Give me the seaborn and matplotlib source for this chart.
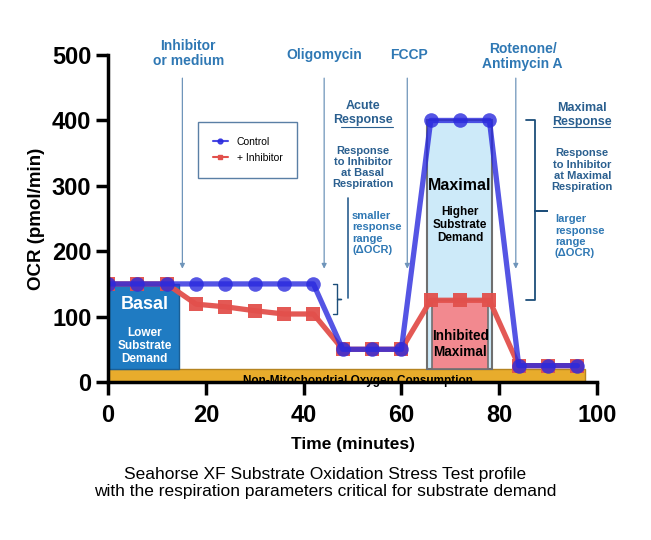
import numpy as np
import pandas as pd
import matplotlib.pyplot as plt
import seaborn as sns
from matplotlib.patches import Rectangle
from matplotlib.lines import Line2D

# data
time = [0, 6, 12, 18, 24, 30, 36, 42, 48, 54, 60, 66, 72, 78, 84, 90, 96]
control = [150, 150, 150, 150, 150, 150, 150, 150, 50, 50, 50, 400, 400, 400, 25, 25, 25]
inhibitor = [150, 150, 150, 119, 115, 109, 104, 104, 50, 50, 50, 125, 125, 125, 25, 25, 25]
injections = ["Inhibitor\nor medium", "Oligomycin", "FCCP", "Rotenone/\nAntimycin A"]
injection_times = [15.2, 44.2, 61.2, 83.4]
x_ticks = [0, 20, 40, 60, 80, 100]
y_ticks = [0, 100, 200, 300, 400, 500]

df = pd.DataFrame({"time": time, "control": control, "inhibitor": inhibitor})

sns.set_style("white")
plt.rcParams["font.family"] = ["Liberation Sans", "DejaVu Sans"]
plt.rcParams["text.color"] = "black"

fig = plt.figure(figsize=(6.51, 5.40), dpi=100)
ax = fig.add_axes([0.166, 0.2926, 0.751, 0.6054])

blue = "#2a2ade"
red = "#e2504c"
note = "#2f78b4"
dark_note = "#2a5f8f"

# background boxes
ax.add_patch(Rectangle((0, 0), 97.5, 20, facecolor="#e8ac2c", edgecolor="#b58420", lw=1, zorder=1))
ax.add_patch(Rectangle((0, 20), 14.6, 130, facecolor="#1f7bc2", edgecolor="#1a5f96", lw=1, zorder=1))
ax.add_patch(Rectangle((65.3, 20), 13.2, 380, facecolor="#cdeaf9", edgecolor="#6f6f6f", lw=1.5, zorder=1))
ax.add_patch(Rectangle((66.2, 20), 11.6, 105, facecolor="#f2898f", edgecolor="#6f6f6f", lw=1.2, zorder=1))

# series
sns.lineplot(data=df, x="time", y="inhibitor", color=red, marker="s", markersize=9.5,
             markeredgewidth=0, linewidth=3.8, alpha=0.95, ax=ax, zorder=3)
sns.lineplot(data=df, x="time", y="control", color=blue, marker="o", markersize=10.5,
             markeredgewidth=0, linewidth=3.8, alpha=0.8, ax=ax, zorder=4)

# injection arrows and labels
for lab, t in zip(injections, injection_times):
    ax.annotate("", xy=(t, 169), xytext=(t, 469),
                arrowprops=dict(arrowstyle="-|>", color="#6f95ba", lw=0.9, mutation_scale=7))
ax.text(16.4, 502, injections[0], ha="center", va="center", color=note,
        fontsize=10, fontweight="bold", linespacing=1.1)
ax.text(44.3, 500, injections[1], ha="center", va="center", color=note,
        fontsize=10, fontweight="bold")
ax.text(61.6, 500, injections[2], ha="center", va="center", color=note,
        fontsize=10, fontweight="bold")
ax.text(84.8, 498.5, injections[3], ha="center", va="center", color=note,
        fontsize=10, fontweight="bold", linespacing=1.1)

# box labels
ax.text(7.5, 118, "Basal", ha="center", va="center", color="white", fontsize=13, fontweight="bold")
ax.text(7.5, 55, "Lower\nSubstrate\nDemand", ha="center", va="center", color="white",
        fontsize=8.5, fontweight="bold", linespacing=1.15)
ax.text(72, 301, "Maximal", ha="center", va="center", color="black", fontsize=11.5, fontweight="bold")
ax.text(72, 240, "Higher\nSubstrate\nDemand", ha="center", va="center", color="black",
        fontsize=8.5, fontweight="bold", linespacing=1.15)
ax.text(72, 58, "Inhibited\nMaximal", ha="center", va="center", color="black",
        fontsize=9.8, fontweight="bold", linespacing=1.2)
ax.text(51.2, -2.5, "Non-Mitochondrial Oxygen Consumption", ha="center", va="baseline",
        color="black", fontsize=8.5, fontweight="bold", zorder=2)

# acute response notes
ax.text(52.1, 411, "Acute\nResponse", ha="center", va="center", color=dark_note,
        fontsize=9, fontweight="bold", linespacing=1.2)
ax.plot([47.7, 58.2], [390, 390], color=dark_note, lw=0.8, clip_on=False)
ax.text(52.1, 328, "Response\nto Inhibitor\nat Basal\nRespiration", ha="center", va="center",
        color=dark_note, fontsize=8, fontweight="bold", linespacing=1.15)
ax.plot([49.1, 49.1], [128, 281], color=dark_note, lw=1.2)
ax.text(49.9, 228, "smaller\nresponse\nrange\n(\u0394OCR)", ha="left", va="center",
        color=note, fontsize=8, fontweight="bold", linespacing=1.15)
ax.plot([46.0, 46.9, 46.9, 47.6, 46.9, 46.9, 46.0],
        [150, 150, 127, 127, 127, 104, 104], color="#1d4e7a", lw=1)

# maximal response notes
ax.text(96.9, 408, "Maximal\nResponse", ha="center", va="center", color=dark_note,
        fontsize=9, fontweight="bold", linespacing=1.2)
ax.plot([91.0, 102.7], [390, 390], color=dark_note, lw=0.8, clip_on=False)
ax.text(97, 324, "Response\nto Inhibitor\nat Maximal\nRespiration", ha="center", va="center",
        color=dark_note, fontsize=8, fontweight="bold", linespacing=1.15)
ax.text(91.4, 223, "larger\nresponse\nrange\n(\u0394OCR)", ha="left", va="center",
        color=note, fontsize=8, fontweight="bold", linespacing=1.15)
ax.plot([85.4, 87.3, 87.3, 89.8, 87.3, 87.3, 85.4],
        [400, 400, 262, 262, 262, 125, 125], color="#1d4e7a", lw=1.3)

# legend
handles = [Line2D([0], [0], color=blue, marker="o", markersize=3.5, lw=1.5, alpha=0.85),
           Line2D([0], [0], color=red, marker="s", markersize=3.5, lw=1.5)]
leg = ax.legend(handles, ["Control", "+ Inhibitor"], loc="upper left",
                bbox_to_anchor=(0.184, 0.795), borderaxespad=0, fontsize=7.5, frameon=True,
                fancybox=False, framealpha=1, edgecolor="#5a7fa5", handlelength=1.5,
                borderpad=1.4, labelspacing=0.6)
leg.get_frame().set_linewidth(1)

# axes styling
ax.set_xlim(0, 100)
ax.set_ylim(0, 500)
ax.set_xticks(x_ticks)
ax.set_yticks(y_ticks)
for s in ["top", "right"]:
    ax.spines[s].set_visible(False)
for s in ["left", "bottom"]:
    ax.spines[s].set_linewidth(2.5)
    ax.spines[s].set_color("black")
    ax.spines[s].set_zorder(5)
ax.tick_params(axis="both", which="major", direction="out", length=9, width=2.5,
               labelsize=17, color="black", labelcolor="black", left=True, bottom=True)
ax.tick_params(axis="x", pad=7)
ax.tick_params(axis="y", pad=3)
for lab in ax.get_xticklabels() + ax.get_yticklabels():
    lab.set_fontweight("bold")
ax.set_xlabel("Time (minutes)", fontsize=12.5, fontweight="bold", labelpad=7, color="black")
ax.set_ylabel("OCR (pmol/min)", fontsize=13.5, fontweight="bold", labelpad=5, color="black")

fig.text(0.5, 0.1056, "Seahorse XF Substrate Oxidation Stress Test profile\n"
         "with the respiration parameters critical for substrate demand",
         ha="center", va="center", fontsize=12.5, linespacing=1.15, color="black")

fig.savefig("out.png", dpi=100)
